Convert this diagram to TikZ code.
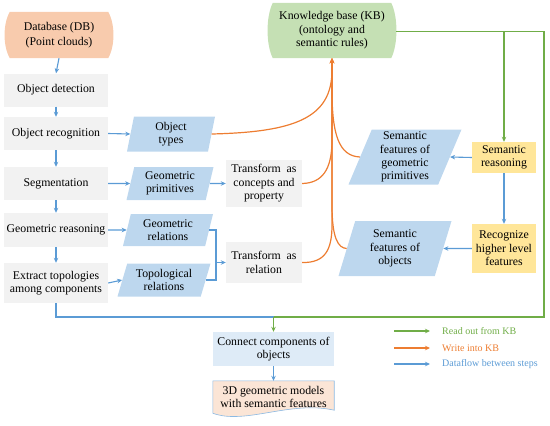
\documentclass[tikz,border=0pt]{standalone}
\usepackage{fontspec}
\setmainfont{Liberation Serif}
\usetikzlibrary{arrows.meta,shapes.geometric,backgrounds,calc}
\definecolor{cgreen}{HTML}{70AD47}
\definecolor{corange}{HTML}{ED7D31}
\definecolor{cblue}{HTML}{5B9BD5}
\definecolor{fgray}{HTML}{F2F2F2}
\definecolor{fpara}{HTML}{BDD7EE}
\definecolor{fconn}{HTML}{DEEBF7}
\definecolor{fkb}{HTML}{C5E0B4}
\definecolor{fdb}{HTML}{F8CBAD}
\definecolor{fyel}{HTML}{FFE699}
\definecolor{fdoc}{HTML}{FBE5D6}
\begin{document}
\begin{tikzpicture}[x=1pt,y=-1pt,
  font=\fontsize{11.8}{13.6}\selectfont,
  tip/.style={-{Stealth[length=5pt,width=4.5pt]}},
  barrow/.style={tip,draw=cblue,line width=1.1pt},
  bline/.style={draw=cblue,line width=1.1pt},
  garrow/.style={tip,draw=cgreen,line width=1.1pt},
  gline/.style={draw=cgreen,line width=1.1pt},
  oarrow/.style={tip,draw=corange,line width=1.2pt},
  gbox/.style={fill=fgray,minimum width=104pt,minimum height=33pt,align=center,inner sep=1pt},
  tbox/.style={fill=fgray,minimum width=76pt,align=center,inner sep=1pt},
  ybox/.style={fill=fyel,minimum width=64pt,align=center,inner sep=1pt},
  para/.style={trapezium,trapezium stretches body,fill=fpara,align=center,inner sep=0pt,
     trapezium left angle=#1,trapezium right angle=180-#1},
  legtext/.style={anchor=west,font=\fontsize{10}{12}\selectfont,inner sep=0pt}
]
\useasboundingbox (0,0) rectangle (550,426);

% left column
\node[align=center,minimum width=98pt,minimum height=46pt,inner sep=0pt,font=\fontsize{11.8}{15}\selectfont] (db) at (59,35) {Database (DB)\\(Point clouds)};
\node[gbox] (od) at (56,90) {Object detection};
\node[gbox] (orec) at (56,133.5) {Object recognition};
\node[gbox] (seg) at (56,183.5) {Segmentation};
\node[gbox,minimum height=34pt] (geo) at (56,230) {Geometric reasoning};
\node[gbox,minimum height=40pt] (ext) at (56,283) {Extract topologies\\among components};

% parallelograms
\node[para=74,minimum width=88pt,minimum height=35pt] (ot) at (171,134) {Object\\types};
\node[para=72,minimum width=87pt,minimum height=33pt] (gp) at (170,183.5) {Geometric\\primitives};
\node[para=70,minimum width=90pt,minimum height=32pt] (gr) at (168,230) {Geometric\\relations};
\node[para=66,minimum width=93pt,minimum height=33pt] (tr) at (164,280) {Topological\\relations};
\node[para=65,minimum width=113pt,minimum height=55pt,font=\fontsize{11.8}{13.2}\selectfont] (sfgp) at (405,157) {Semantic\\features of\\geometric\\primitives};
\node[para=66,minimum width=113pt,minimum height=55pt] (sfo) at (395,248.5) {Semantic\\features of\\objects};

% transform boxes
\node[tbox,minimum height=47pt] (tcp) at (264,183.5) {Transform\ \ as\\concepts and\\property};
\node[tbox,minimum height=41pt] (trel) at (264,262.5) {Transform\ \ as\\relation};

% KB
\node[align=center,minimum width=118pt,minimum height=55pt,inner sep=0pt] (kb) at (332,30.5) {Knowledge base (KB)\\(ontology and\\semantic rules)};

% yellow boxes
\node[ybox,minimum height=31pt] (sr) at (504,157.5) {Semantic\\reasoning};
\node[ybox,minimum height=49pt] (rh) at (504,248.5) {Recognize\\higher level\\features};

% bottom
\node[fill=fconn,minimum width=121pt,minimum height=34pt,align=center,inner sep=1pt] (cc) at (273.5,349) {Connect components of\\objects};
\node[minimum width=121pt,minimum height=32pt,align=center,inner sep=0pt] (doc) at (273.5,397) {3D geometric models\\with semantic features};

\begin{scope}[on background layer]
\fill[fdb] (db.north west) -- (db.north east)
  .. controls ($(db.north east)+(7,12)$) and ($(db.south east)+(7,-12)$) .. (db.south east)
  -- (db.south west)
  .. controls ($(db.south west)+(-7,-12)$) and ($(db.north west)+(-7,12)$) .. (db.north west) -- cycle;
\fill[fkb] (kb.north west) -- (kb.north east)
  .. controls ($(kb.north east)+(7,14)$) and ($(kb.south east)+(7,-14)$) .. (kb.south east)
  -- (kb.south west)
  .. controls ($(kb.south west)+(-7,-14)$) and ($(kb.north west)+(-7,14)$) .. (kb.north west) -- cycle;
\filldraw[fill=fdoc,draw=cblue!70,line width=0.6pt] (doc.north west) -- (doc.north east) -- ($(doc.south east)+(0,-3)$)
  .. controls ($(doc.south east)+(-44,-13)$) and ($(doc.south west)+(32,12)$) .. (doc.south west) -- cycle;
\end{scope}

% coordinates
\coordinate (br) at (216,262.5);
\coordinate (j) at (273.5,317);
\coordinate (gc) at (544,317);
\coordinate (kbe) at ($(kb.east)+(5,1)$);
\coordinate (kbs) at (kb.south);

% blue arrows
\draw[barrow] (db.south) -- (od.north);
\draw[barrow] (od.south) -- (orec.north);
\draw[barrow] (orec.south) -- (seg.north);
\draw[barrow] (seg.south) -- (geo.north);
\draw[barrow] (geo.south) -- (ext.north);
\draw[barrow] (orec.east) -- (ot.west);
\draw[barrow] (seg.east) -- (gp.west);
\draw[barrow] (gp.east) -- (tcp.west);
\draw[barrow] (geo.east) -- (gr.west);
\draw[barrow] (ext.east) -- (tr.west);
\draw[bline] (gr.east) -| (br) |- (tr.east);
\draw[barrow] (br) -- (trel.west);
\draw[barrow] (sr.west) -- (sfgp.east);
\draw[barrow] (sr.south) -- (rh.north);
\draw[barrow] (rh.west) -- (sfo.east);
\draw[bline] (ext.south) |- (j);
\draw[barrow] (cc.south) -- (doc.north);

% green
\draw[gline] (kbe) -| (gc) -- (j);
\draw[garrow] (kbe -| sr.north) -- (sr.north);
\draw[garrow] (j) -- (cc.north);

% orange
\draw[oarrow] (ot.east) .. controls (295,132) and (332,118) .. (332,70) -- (kbs);
\draw[oarrow] (tcp.east) .. controls (322,183) and (332,170) .. (332,140) -- (kbs);
\draw[oarrow] (trel.east) .. controls (325,263) and (332,250) .. (332,225) -- (kbs);
\draw[oarrow] (sfgp.west) .. controls (339,156) and (332,135) .. (332,90) -- (kbs);
\draw[oarrow] (sfo.west) .. controls (338,248) and (332,238) .. (332,205) -- (kbs);

% legend
\coordinate (l1a) at (394,331); \coordinate (l1b) at (430,331);
\coordinate (l2a) at (394,348); \coordinate (l2b) at (430,348);
\coordinate (l3a) at (394,364); \coordinate (l3b) at (430,364);
\draw[garrow] (l1a) -- (l1b);
\draw[oarrow] (l2a) -- (l2b);
\draw[barrow] (l3a) -- (l3b);
\node[legtext,text=cgreen] (t1) at (442,331) {Read out from KB};
\node[legtext,text=corange] (t2) at (442,348) {Write into KB};
\node[legtext,text=cblue] (t3) at (442,364) {Dataflow between steps};
\end{tikzpicture}
\end{document}
